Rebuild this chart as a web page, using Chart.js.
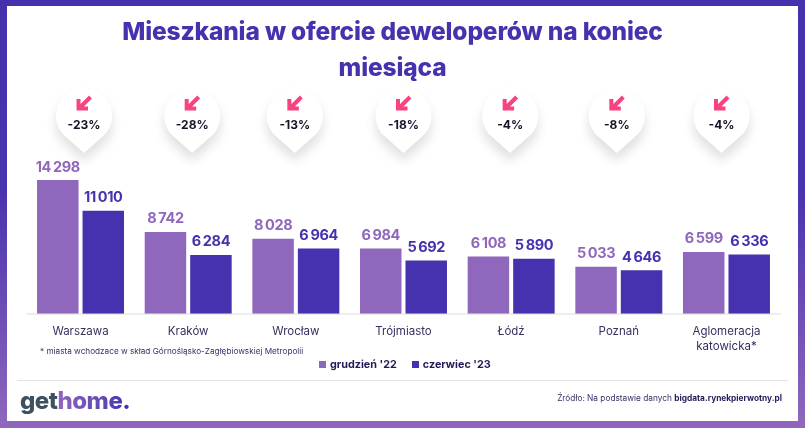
<!DOCTYPE html>
<html lang="pl">
<head>
<meta charset="utf-8">
<title>Mieszkania w ofercie deweloperów</title>
<script src="https://cdn.jsdelivr.net/npm/chart.js@4"></script>
<style>
  html, body { margin: 0; padding: 0; }
  body { width: 805px; height: 428px; position: relative; overflow: hidden; font-family: Inter, sans-serif;
    background: linear-gradient(180deg, #4630ad 0%, #4a33ae 45%, #8f68bd 100%); }
  #panel { position: absolute; left: 7px; top: 6px; width: 791px; height: 415px; background: #fff; }
  canvas { position: absolute; left: 0; top: 0; }
  .abs { position: absolute; white-space: nowrap; }
  #title { left: 0; width: 785px; top: 14px; text-align: center; color: #4632ae; font-size: 24.5px; font-weight: 800; letter-spacing: -0.15px; line-height: 35.5px; }
  #footnote { left: 40px; top: 346px; font-size: 8.2px; color: #3a2f66; }
  #legend { top: 358px; left: 319px; font-size: 10.8px; font-weight: 700; color: #241a58; display: flex; }
  #legend i { display: inline-block; width: 7px; height: 7px; margin: 3px 4px 0 0; }
  #legend span { margin-right: 15px; }
  #rule { left: 17px; width: 771px; top: 380px; height: 1px; background: #e2e2e2; }
  #logo { left: 20px; top: 386px; font-size: 24px; font-weight: 800; letter-spacing: -0.5px; color: #3d5160; }
  #logo b { font-weight: 800; color: transparent; background: linear-gradient(90deg, #8f68bd, #4f38b0); -webkit-background-clip: text; background-clip: text; }
  #logo u { color: #4632ae; text-decoration: none; }
  #source { right: 23px; top: 393px; font-size: 8.3px; color: #3a2f66; }
  #source b { color: #241a58; }
</style>
</head>
<body>
<div id="panel"></div>
<canvas id="chart" width="805" height="428"></canvas>
<div class="abs" id="title">Mieszkania w ofercie deweloperów na koniec<br>miesiąca</div>
<div class="abs" id="footnote">* miasta wchodzace w skład Górnośląsko-Zagłębiowskiej Metropolii</div>
<div class="abs" id="legend"></div>
<div class="abs" id="rule"></div>
<div class="abs" id="logo">get<b>home</b><u>.</u></div>
<div class="abs" id="source">Źródło: Na podstawie danych <b>bigdata.rynekpierwotny.pl</b></div>

<script>
  // Data
  const categories = ['Warszawa', 'Kraków', 'Wrocław', 'Trójmiasto', 'Łódź', 'Poznań', ['Aglomeracja', 'katowicka*']];
  const december22 = [14298, 8742, 8028, 6984, 6108, 5033, 6599];
  const june23 = [11010, 6284, 6964, 5692, 5890, 4646, 6336];
  const changes = ['-23%', '-28%', '-13%', '-18%', '-4%', '-8%', '-4%'];
  const seriesNames = ["grudzień '22", "czerwiec '23"];

  const LIGHT = '#8f68bd';
  const DARK = '#4632ae';
  const PINK = '#f8437f';

  // Bubbles are not quite centred over the groups in the original
  const bubbleShift = [3.5, 4, -1, 0, -1, -2, -5];

  // Legend
  document.getElementById('legend').innerHTML = seriesNames.map((name, i) =>
    `<i style="background:${i ? DARK : LIGHT}"></i><span>${name}</span>`).join('');

  const formatValue = v => String(v).replace(/\B(?=(\d{3})+$)/g, ' ');

  // Value labels above the bars
  const valueLabels = {
    id: 'valueLabels',
    afterDatasetsDraw(chart) {
      const ctx = chart.ctx;
      ctx.save();
      ctx.font = '700 14.5px Inter';
      ctx.letterSpacing = '-0.4px';
      ctx.wordSpacing = '-1px';
      ctx.textAlign = 'center';
      ctx.textBaseline = 'alphabetic';
      chart.data.datasets.forEach((ds, i) => {
        ctx.fillStyle = ds.backgroundColor;
        chart.getDatasetMeta(i).data.forEach((bar, j) => {
          ctx.fillText(formatValue(ds.data[j]), bar.x, bar.y - 8.5);
        });
      });
      ctx.restore();
    }
  };

  // Pin bubbles with the percent change
  const changeBubbles = {
    id: 'changeBubbles',
    afterDatasetsDraw(chart) {
      const ctx = chart.ctx;
      const xScale = chart.scales.x;
      changes.forEach((text, i) => {
        const x = xScale.getPixelForValue(i) + bubbleShift[i];
        const cy = 116, r = 28, tip = 153;

        ctx.save();
        ctx.shadowColor = 'rgba(0,0,0,0.13)';
        ctx.shadowBlur = 12;
        ctx.shadowOffsetY = 8;
        ctx.fillStyle = '#fff';
        ctx.beginPath();
        ctx.arc(x, cy, r, Math.PI * 0.75 + 0.1, Math.PI * 0.25 - 0.1);
        ctx.lineTo(x, tip);
        ctx.closePath();
        ctx.fill();
        ctx.restore();

        // arrow pointing down-left
        ctx.save();
        ctx.strokeStyle = PINK;
        ctx.lineWidth = 4;
        ctx.beginPath();
        ctx.moveTo(x + 6.5, cy - 19);
        ctx.lineTo(x - 5, cy - 7.5);
        ctx.moveTo(x - 5.5, cy - 17);
        ctx.lineTo(x - 5.5, cy - 7.5);
        ctx.lineTo(x + 4, cy - 7.5);
        ctx.stroke();
        ctx.restore();

        ctx.save();
        ctx.fillStyle = '#15122a';
        ctx.font = '700 12px Inter';
        ctx.textAlign = 'center';
        ctx.textBaseline = 'alphabetic';
        ctx.fillText(text, x, cy + 12.5);
        ctx.restore();
      });
    }
  };

  new Chart(document.getElementById('chart'), {
    type: 'bar',
    data: {
      labels: categories,
      datasets: [
        { label: seriesNames[0], data: december22, backgroundColor: LIGHT },
        { label: seriesNames[1], data: june23, backgroundColor: DARK }
      ]
    },
    options: {
      responsive: false,
      animation: false,
      categoryPercentage: 0.845,
      barPercentage: 0.912,
      layout: { padding: { left: 26.7, right: 24.7, top: 126.7, bottom: 54.3 } },
      plugins: { legend: { display: false }, title: { display: false }, tooltip: { enabled: false } },
      scales: {
        x: {
          afterFit(scale) { scale.height = 60; },
          grid: { display: false, drawTicks: false },
          border: { color: '#eeeeee', width: 2 },
          ticks: { color: '#3a2f5e', font: { family: 'Inter', size: 11.5, lineHeight: 1.3 }, padding: 10, maxRotation: 0, autoSkip: false }
        },
        y: { display: false, min: 0, max: 20000 }
      }
    },
    plugins: [valueLabels, changeBubbles]
  });
</script>
</body>
</html>
